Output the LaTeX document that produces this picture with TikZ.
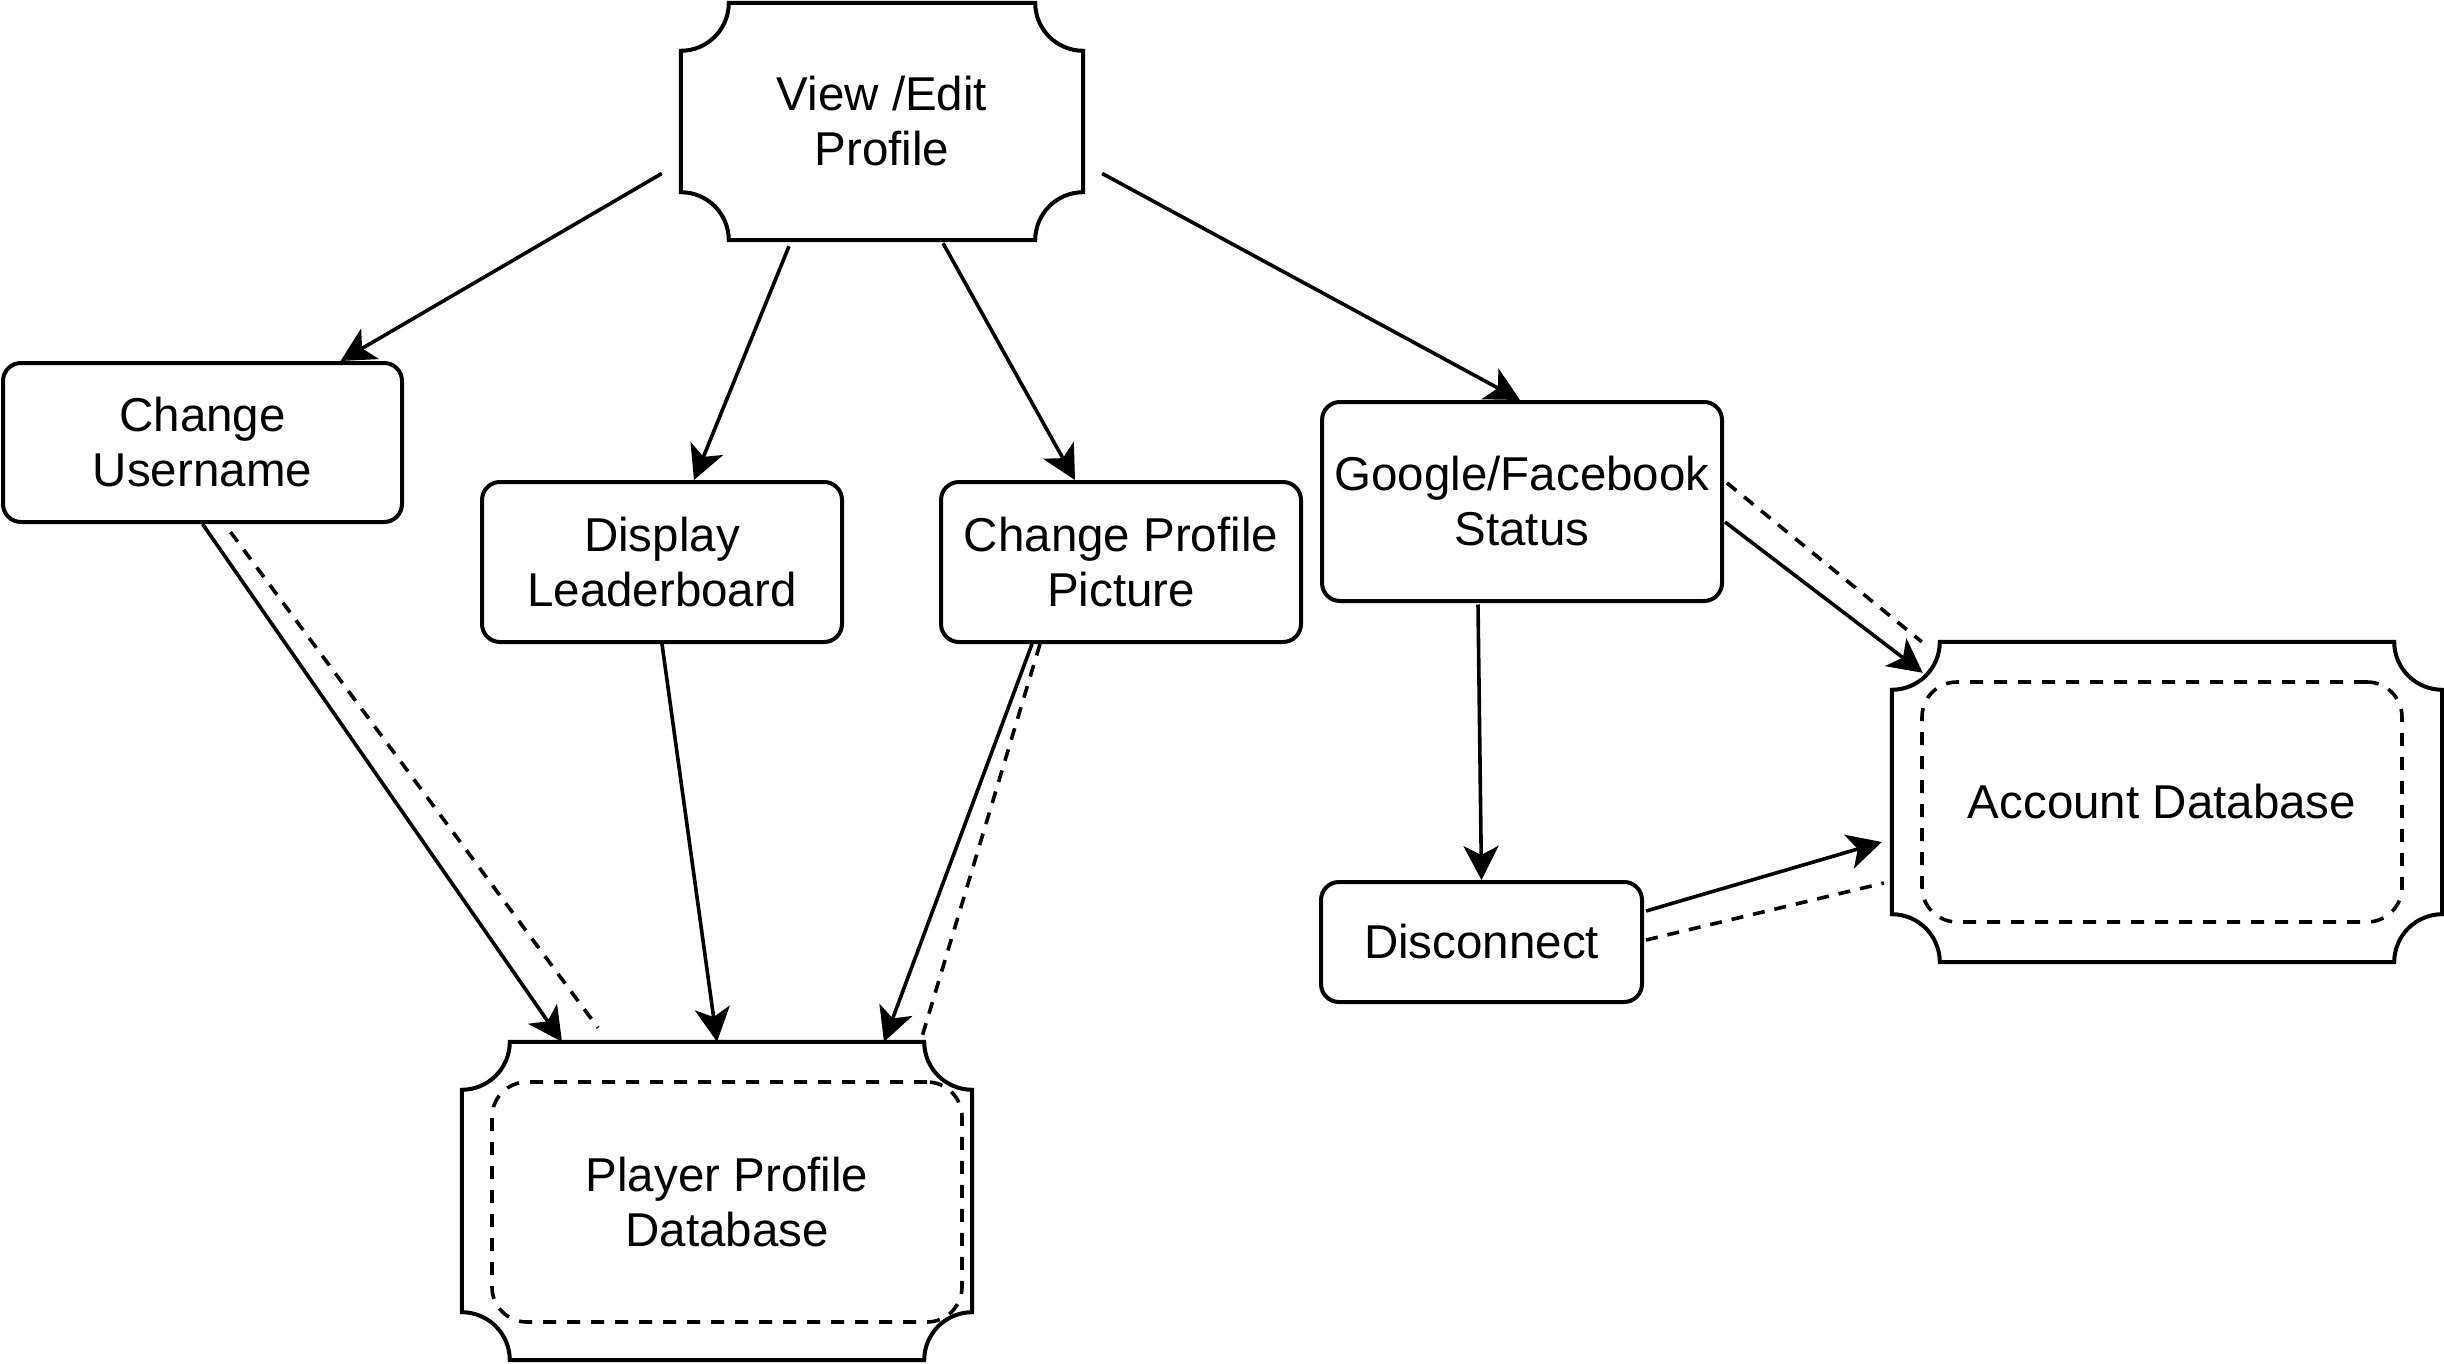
\documentclass[tikz,border=0pt]{standalone}
\usepackage{fontspec}
\setmainfont{Liberation Sans}
\usetikzlibrary{arrows.meta}
\newcommand\ticketoutline[2]{%
  \draw[boxline] ([yshift=-#2]#1.north west) arc[start angle=270,end angle=360,radius=#2]
    -- ([xshift=-#2]#1.north east) arc[start angle=180,end angle=270,radius=#2]
    -- ([yshift=#2]#1.south east) arc[start angle=90,end angle=180,radius=#2]
    -- ([xshift=#2]#1.south west) arc[start angle=0,end angle=90,radius=#2]
    -- cycle;}
\begin{document}
\begin{tikzpicture}[x=1pt,y=-1pt,
  every node/.style={font=\fontsize{47.5}{55}\selectfont, align=center, inner sep=0pt},
  boxline/.style={line width=4pt, line join=miter},
  rbox/.style={draw, line width=4pt, rounded corners=18pt, rectangle},
  ticket/.style={rectangle},
  inbox/.style={draw, line width=3.6pt, rounded corners=35pt, rectangle, dash pattern=on 13pt off 11pt},
  arr/.style={line width=3.6pt, -{Stealth[length=34pt, width=35pt, inset=9pt]}},
  dashline/.style={line width=3.6pt, dash pattern=on 12pt off 10pt}]
\useasboundingbox (0,0) rectangle (2444,1364);

% ticket shaped nodes
\node[ticket, minimum width=402pt, minimum height=237pt] (view) at (882,121.5) {View /Edit\\Profile};
\ticketoutline{view}{48pt}

\node[ticket, minimum width=510pt, minimum height=318pt] (ppdb) at (717,1201) {};
\ticketoutline{ppdb}{48pt}
\node[inbox, minimum width=470pt, minimum height=240pt] (ppdbin) at (727,1202) {Player Profile\\Database};

\node[ticket, minimum width=550pt, minimum height=320pt] (adb) at (2167,802) {};
\ticketoutline{adb}{48pt}
\node[inbox, minimum width=480pt, minimum height=240pt] (adbin) at (2162,802) {Account Database};

% rounded boxes
\node[rbox, minimum width=399pt, minimum height=159pt] (cu) at (202.5,442.5) {Change\\Username};
\node[rbox, minimum width=360pt, minimum height=160pt] (dl) at (662,562) {Display\\Leaderboard};
\node[rbox, minimum width=360pt, minimum height=160pt] (cpp) at (1121,562) {Change Profile\\Picture};
\node[rbox, minimum width=400pt, minimum height=199pt] (gf) at (1522,501.5) {Google/Facebook\\Status};
\node[rbox, minimum width=321pt, minimum height=120pt] (dc) at (1481.5,942) {Disconnect};

% connectors from View/Edit Profile
\draw[arr] ([shift={(-19,52)}]view.west) -- ([shift={(138,0)}]cu.north);
\draw[arr] ([shift={(-93,6)}]view.south) -- ([shift={(32,0)}]dl.north);
\draw[arr] ([shift={(61,3)}]view.south) -- ([shift={(-46,0)}]cpp.north);
\draw[arr] ([shift={(19,52)}]view.east) -- ([shift={(-2,0)}]gf.north);

% to Player Profile Database
\draw[arr] (cu.south) -- ([shift={(-155,0)}]ppdb.north);
\draw[dashline] ([shift={(28,8)}]cu.south) -- ([shift={(-119,-14)}]ppdb.north);
\draw[arr] (dl.south) -- (ppdb.north);
\draw[arr] ([shift={(-89,0)}]cpp.south) -- ([shift={(167,0)}]ppdb.north);
\draw[dashline] ([shift={(-81,0)}]cpp.south) -- ([shift={(205,-5)}]ppdb.north);

% Google/Facebook status
\draw[arr] ([shift={(-44,1.5)}]gf.south) -- (dc.north);
\draw[arr] ([shift={(1,20.5)}]gf.east) -- ([shift={(31,31)}]adb.north west);
\draw[dashline] ([shift={(3,-18.5)}]gf.east) -- ([shift={(30,0)}]adb.north west);

% Disconnect
\draw[arr] ([shift={(2,-31)}]dc.east) -- ([shift={(-10,40)}]adb.west);
\draw[dashline] ([shift={(2,-2)}]dc.east) -- ([shift={(-8,81)}]adb.west);
\end{tikzpicture}
\end{document}
